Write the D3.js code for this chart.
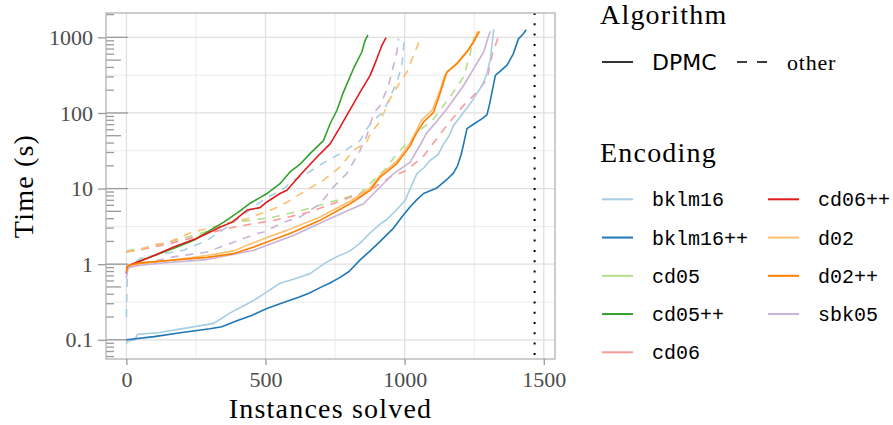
<!DOCTYPE html>
<html>
<head>
<meta charset="utf-8">
<script src="https://cdn.jsdelivr.net/npm/d3@7"></script>
<style>
body { margin: 0; background: #fff; }
</style>
</head>
<body>
<svg id="chart" width="893" height="425"></svg>
<script>

var encodings = ["bklm16", "bklm16++", "cd05", "cd05++", "cd06", "cd06++", "d02", "d02++", "sbk05"];
var algorithms = ["DPMC", "other"];
var xTicks = [0, 500, 1000, 1500];
var yTicks = [0.1, 1, 10, 100, 1000];
var totalInstances = 1467;

// [instances solved, time (s)]
var dpmcBklm16 = [[0,0.088],[3,0.095],[30,0.1],[40,0.118],[120,0.125],[229,0.146],[314,0.165],[340,0.19],[373,0.227],[420,0.28],[457,0.33],[505,0.43],[552,0.56],[600,0.63],[660,0.75],[720,1.07],[756,1.25],[804,1.5],[840,1.9],[876,2.6],[912,3.4],[936,3.9],[970,5.2],[1002,7],[1020,10],[1044,15.8],[1070,19],[1092,23.7],[1120,28],[1140,39],[1160,50],[1176,68.5],[1212,102],[1240,140],[1278,231],[1296,330],[1302,420],[1308,520],[1314,800],[1320,1290]];
var dpmcBklm16pp = [[0,0.1],[100,0.11],[200,0.125],[300,0.14],[343,0.149],[397,0.178],[450,0.21],[505,0.26],[552,0.3],[624,0.37],[660,0.42],[696,0.49],[730,0.56],[768,0.67],[800,0.8],[840,1.14],[876,1.5],[912,2],[960,3],[990,4.2],[1019,5.7],[1045,7.2],[1068,8.6],[1116,10.2],[1150,13],[1175,16],[1190,20],[1203,28],[1212,39],[1224,62],[1250,72],[1280,85],[1296,95],[1305,130],[1314,189],[1326,314],[1345,360],[1368,430],[1390,600],[1409,955],[1425,1100],[1437,1260]];
var dpmcCd05pp = [[0,0.75],[3,0.92],[20,1],[100,1.3],[182,1.69],[242,2.07],[300,2.8],[350,3.6],[400,4.8],[445,6.4],[480,7.6],[505,8.6],[552,11.6],[588,16.6],[624,21],[660,29],[708,43],[732,72],[756,107],[780,189],[816,385],[846,640],[858,910],[868,1080]];
var dpmcCd06pp = [[0,0.75],[3,0.92],[20,1],[100,1.3],[170,1.69],[254,2.2],[338,3.1],[380,3.6],[434,5.2],[480,5.6],[505,6.65],[552,8.6],[577,9.5],[624,15],[684,26],[732,39],[768,65],[792,93],[840,189],[876,314],[900,520],[918,780],[933,990]];
var dpmcD02 = [[0,0.8],[4,0.93],[20,0.98],[150,1.12],[290,1.3],[386,1.5],[445,1.85],[505,2.25],[577,2.8],[696,4.2],[804,6.8],[876,10.2],[912,15],[972,23],[1008,35],[1020,40],[1040,56],[1060,80],[1100,110],[1125,190],[1145,320],[1188,460],[1224,660],[1250,900],[1262,1200]];
var dpmcD02pp = [[0,0.8],[4,0.93],[10,0.97],[50,1.04],[150,1.12],[290,1.23],[386,1.38],[458,1.69],[505,1.97],[588,2.54],[696,3.8],[804,6.3],[876,9.5],[912,14.2],[972,21.4],[1008,32],[1020,37],[1040,52],[1068,76],[1104,102],[1125,170],[1140,256],[1152,350],[1188,447],[1224,640],[1248,870],[1269,1200]];
var dpmcSbk05 = [[0,0.65],[5,0.9],[50,0.97],[150,1.05],[290,1.15],[458,1.53],[505,1.78],[600,2.4],[744,4.2],[852,6.3],[912,10.5],[960,15.8],[1020,22.4],[1056,38],[1080,55],[1104,69],[1152,114],[1212,231],[1248,385],[1284,640],[1302,1060],[1308,1200]];
var otherBklm16 = [[0,0.2],[2,0.5],[4,0.85],[20,1],[50,1.19],[120,1.35],[206,1.53],[290,2.07],[326,2.54],[362,3.1],[410,4.2],[460,5.8],[504,7.6],[540,8.8],[566,10],[600,13],[648,15.8],[700,21],[768,29],[840,43],[864,62],[888,80],[920,100],[936,130],[972,256],[990,426],[998,870],[1000,960]];
var otherCd05 = [[0,1.5],[50,1.6],[150,1.95],[250,2.45],[300,2.8],[373,3.6],[450,3.8],[530,4.2],[636,5.2],[756,7],[840,8.6],[888,12.9],[930,18],[972,29],[1020,43],[1068,65],[1100,80],[1164,165],[1212,300],[1235,600],[1245,900],[1252,1050]];
var otherCd06 = [[0,1.45],[50,1.55],[150,1.85],[250,2.3],[350,2.9],[450,3.4],[530,3.8],[660,4.9],[792,7.4],[876,9.5],[948,14.2],[1008,17.4],[1068,27],[1110,43],[1152,69],[1212,126],[1260,189],[1296,280],[1314,580],[1332,910],[1336,1000]];
var otherD02 = [[0,1.45],[62,1.61],[110,1.85],[146,1.9],[230,2.6],[338,3.27],[434,4],[530,5.4],[577,6.6],[636,9],[708,12.9],[768,19.3],[816,32],[864,41],[876,53],[912,78],[948,155],[984,256],[1008,347],[1032,580],[1056,955],[1062,1050]];
var otherSbk05 = [[0,0.95],[100,1.1],[170,1.25],[290,1.45],[338,1.69],[469,2.54],[494,2.67],[566,3.6],[624,4.2],[696,6.3],[744,10.5],[792,15.8],[840,32],[864,50],[888,98],[912,126],[942,231],[972,640],[978,960]];

var series = [
  {enc: "bklm16", alg: "other", values: otherBklm16},
  {enc: "cd05", alg: "other", values: otherCd05},
  {enc: "cd06", alg: "other", values: otherCd06},
  {enc: "d02", alg: "other", values: otherD02},
  {enc: "sbk05", alg: "other", values: otherSbk05},
  {enc: "bklm16", alg: "DPMC", values: dpmcBklm16},
  {enc: "bklm16++", alg: "DPMC", values: dpmcBklm16pp},
  {enc: "cd05++", alg: "DPMC", values: dpmcCd05pp},
  {enc: "cd06++", alg: "DPMC", values: dpmcCd06pp},
  {enc: "d02", alg: "DPMC", values: dpmcD02},
  {enc: "sbk05", alg: "DPMC", values: dpmcSbk05},
  {enc: "d02++", alg: "DPMC", values: dpmcD02pp}
];

var serif = "'Liberation Serif', 'Times New Roman', serif";
var svg = d3.select("#chart");
var panelLeft = 106, panelRight = 555, panelTop = 13, panelBottom = 359;

var x = d3.scaleLinear().domain([-73.35, 1540.35]).range([panelLeft, panelRight]);
var y = d3.scaleLog().domain([0.0557, 2100]).range([panelBottom, panelTop]);
var color = d3.scaleOrdinal(encodings, d3.schemePaired);
var dash = {DPMC: null, other: "8,7"};

// grid
var grid = svg.append("g");
grid.selectAll(".gxm").data([250, 750, 1250]).enter().append("line")
    .attr("x1", d => x(d)).attr("x2", d => x(d)).attr("y1", panelTop).attr("y2", panelBottom)
    .attr("stroke", "#ececec").attr("stroke-width", 1);
grid.selectAll(".gym").data([0.316, 3.16, 31.6, 316]).enter().append("line")
    .attr("x1", panelLeft).attr("x2", panelRight).attr("y1", d => y(d)).attr("y2", d => y(d))
    .attr("stroke", "#ececec").attr("stroke-width", 1);
grid.selectAll(".gx").data(xTicks).enter().append("line")
    .attr("x1", d => x(d)).attr("x2", d => x(d)).attr("y1", panelTop).attr("y2", panelBottom)
    .attr("stroke", "#e0e0e0").attr("stroke-width", 1.3);
grid.selectAll(".gy").data(yTicks).enter().append("line")
    .attr("x1", panelLeft).attr("x2", panelRight).attr("y1", d => y(d)).attr("y2", d => y(d))
    .attr("stroke", "#e0e0e0").attr("stroke-width", 1.3);

// log ticks inside the panel
var logTicks = [];
for (var k = -2; k <= 3; k++) {
  for (var m = 1; m <= 9; m++) {
    var v = m * Math.pow(10, k);
    if (v >= 0.0557 && v <= 2100) logTicks.push({v: v, m: m});
  }
}
svg.append("g").selectAll("line").data(logTicks).enter().append("line")
    .attr("x1", panelLeft).attr("x2", d => panelLeft + (d.m === 1 ? 22 : d.m === 5 ? 15 : 8))
    .attr("y1", d => y(d.v)).attr("y2", d => y(d.v))
    .attr("stroke", "#9a9a9a").attr("stroke-width", 1.3);

// lines
var line = d3.line()
    .x(function(d) { return x(d[0]); })
    .y(function(d) { return y(d[1]); });

svg.append("g").selectAll("path").data(series).enter().append("path")
    .attr("d", d => line(d.values))
    .attr("fill", "none")
    .attr("stroke", d => color(d.enc))
    .attr("stroke-width", 1.6)
    .attr("stroke-linejoin", "round")
    .attr("stroke-dasharray", d => dash[d.alg]);

// total instances
svg.append("line")
    .attr("x1", x(totalInstances)).attr("x2", x(totalInstances))
    .attr("y1", panelTop).attr("y2", panelBottom)
    .attr("stroke", "#000").attr("stroke-width", 2)
    .attr("stroke-dasharray", "2,8.3");

// panel border
svg.append("rect")
    .attr("x", panelLeft).attr("y", panelTop)
    .attr("width", panelRight - panelLeft).attr("height", panelBottom - panelTop)
    .attr("fill", "none").attr("stroke", "#b3b3b3").attr("stroke-width", 1.3);

// axes
var yAxis = svg.append("g")
    .attr("transform", "translate(" + panelLeft + ",0)")
    .call(d3.axisLeft(y).tickValues(yTicks).tickSize(8).tickPadding(5).tickFormat(d3.format("~g")));
var xAxis = svg.append("g")
    .attr("transform", "translate(0," + panelBottom + ")")
    .call(d3.axisBottom(x).tickValues(xTicks).tickSize(6).tickPadding(6).tickFormat(d3.format("d")));
[xAxis, yAxis].forEach(function(a) {
  a.select(".domain").remove();
  a.selectAll(".tick line").attr("stroke", "#9a9a9a").attr("stroke-width", 1.3);
  a.selectAll(".tick text").attr("fill", "#4d4d4d")
    .style("font-family", serif).style("font-size", "22px");
});

svg.append("text")
    .attr("x", (panelLeft + panelRight) / 2).attr("y", 418)
    .attr("text-anchor", "middle")
    .style("font-family", serif).style("font-size", "28px").style("letter-spacing", "1.2px")
    .text("Instances solved");
svg.append("text")
    .attr("transform", "translate(33," + (panelTop + panelBottom) / 2 + ") rotate(-90)")
    .attr("text-anchor", "middle")
    .style("font-family", serif).style("font-size", "28px").style("letter-spacing", "1.2px")
    .text("Time (s)");

// legend: algorithm
var lg = svg.append("g");
lg.append("text").attr("x", 600).attr("y", 24)
    .style("font-family", serif).style("font-size", "28px").style("letter-spacing", "1.2px")
    .text("Algorithm");
lg.append("line").attr("x1", 602).attr("x2", 633).attr("y1", 62).attr("y2", 62)
    .attr("stroke", "#000").attr("stroke-width", 1.6);
lg.append("text").attr("x", 652).attr("y", 69.5)
    .style("font-family", "'DejaVu Sans', sans-serif").style("font-size", "22px")
    .text(algorithms[0]);
lg.append("line").attr("x1", 737).attr("x2", 768).attr("y1", 62).attr("y2", 62)
    .attr("stroke", "#000").attr("stroke-width", 1.6).attr("stroke-dasharray", "10,10");
lg.append("text").attr("x", 787).attr("y", 69.5)
    .style("font-family", serif).style("font-size", "22px").style("letter-spacing", "0.8px")
    .text(algorithms[1]);

// legend: encoding
lg.append("text").attr("x", 600).attr("y", 162)
    .style("font-family", serif).style("font-size", "28px").style("letter-spacing", "1.2px")
    .text("Encoding");
var items = lg.selectAll(".enc").data(encodings).enter().append("g")
    .attr("transform", function(d, i) {
      var col = i < 5 ? 0 : 1, row = i < 5 ? i : i - 5;
      return "translate(" + (602 + col * 166) + "," + (199.3 + row * 38.25) + ")";
    });
items.append("line").attr("x1", 0).attr("x2", 31)
    .attr("stroke", d => color(d)).attr("stroke-width", 2);
items.append("text").attr("x", 50).attr("y", 7)
    .style("font-family", "'Liberation Mono', 'DejaVu Sans Mono', monospace").style("font-size", "20px")
    .text(d => d);

</script>
</body>
</html>
